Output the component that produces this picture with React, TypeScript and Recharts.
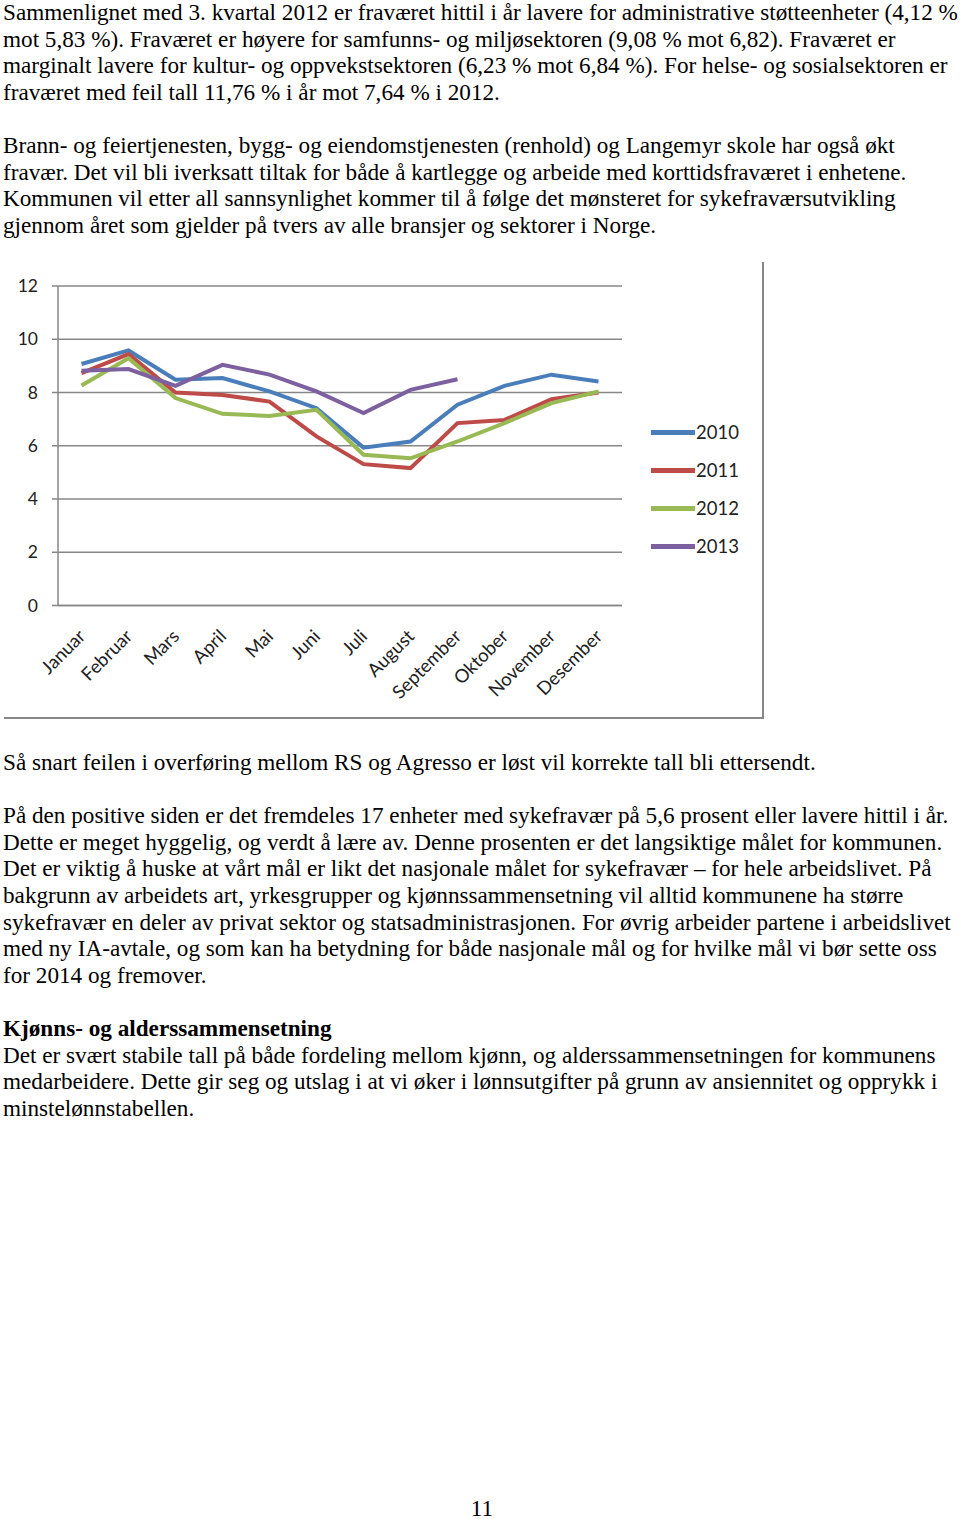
import React from 'react'
import { LineChart, Line, XAxis, YAxis, CartesianGrid } from 'recharts'

const months = [
  'Januar',
  'Februar',
  'Mars',
  'April',
  'Mai',
  'Juni',
  'Juli',
  'August',
  'September',
  'Oktober',
  'November',
  'Desember',
]

const y2010 = [9.07, 9.58, 8.48, 8.54, 8.04, 7.41, 5.93, 6.16, 7.54, 8.25, 8.67, 8.41]
const y2011 = [8.73, 9.44, 8.0, 7.91, 7.66, 6.35, 5.31, 5.16, 6.85, 6.97, 7.75, 8.0]
const y2012 = [8.26, 9.29, 7.79, 7.2, 7.12, 7.35, 5.66, 5.53, 6.16, 6.85, 7.6, 8.04]
const y2013 = [8.82, 8.88, 8.25, 9.04, 8.67, 8.04, 7.23, 8.1, 8.5, null, null, null]

const yTicks = [0, 2, 4, 6, 8, 10, 12]

const series = [
  { key: 'y2010', name: '2010', color: '#4a7ebb' },
  { key: 'y2011', name: '2011', color: '#be4b48' },
  { key: 'y2012', name: '2012', color: '#98b954' },
  { key: 'y2013', name: '2013', color: '#7d60a0' },
]

const textBefore = [
  'Sammenlignet med 3. kvartal 2012 er fraværet hittil i år lavere for administrative støtteenheter (4,12 %',
  'mot 5,83 %). Fraværet er høyere for samfunns- og miljøsektoren (9,08 % mot 6,82). Fraværet er',
  'marginalt lavere for kultur- og oppvekstsektoren (6,23 % mot 6,84 %). For helse- og sosialsektoren er',
  'fraværet med feil tall 11,76 % i år mot 7,64 % i 2012.',
  '',
  'Brann- og feiertjenesten, bygg- og eiendomstjenesten (renhold) og Langemyr skole har også økt',
  'fravær. Det vil bli iverksatt tiltak for både å kartlegge og arbeide med korttidsfraværet i enhetene.',
  'Kommunen vil etter all sannsynlighet kommer til å følge det mønsteret for sykefraværsutvikling',
  'gjennom året som gjelder på tvers av alle bransjer og sektorer i Norge.',
]

const textAfter = [
  'Så snart feilen i overføring mellom RS og Agresso er løst vil korrekte tall bli ettersendt.',
  '',
  'På den positive siden er det fremdeles 17 enheter med sykefravær på 5,6 prosent eller lavere hittil i år.',
  'Dette er meget hyggelig, og verdt å lære av. Denne prosenten er det langsiktige målet for kommunen.',
  'Det er viktig å huske at vårt mål er likt det nasjonale målet for sykefravær – for hele arbeidslivet. På',
  'bakgrunn av arbeidets art, yrkesgrupper og kjønnssammensetning vil alltid kommunene ha større',
  'sykefravær en deler av privat sektor og statsadministrasjonen. For øvrig arbeider partene i arbeidslivet',
  'med ny IA-avtale, og som kan ha betydning for både nasjonale mål og for hvilke mål vi bør sette oss',
  'for 2014 og fremover.',
  '',
  '**Kjønns- og alderssammensetning',
  'Det er svært stabile tall på både fordeling mellom kjønn, og alderssammensetningen for kommunens',
  'medarbeidere. Dette gir seg og utslag i at vi øker i lønnsutgifter på grunn av ansiennitet og opprykk i',
  'minstelønnstabellen.',
]

const data = months.map((m, i) => ({
  month: m,
  pos: i + 0.5,
  y2010: y2010[i],
  y2011: y2011[i],
  y2012: y2012[i],
  y2013: y2013[i],
}))

const boundaryTicks = months.map((_, i) => i).concat([months.length])
const labelTicks = months.map((_, i) => i + 0.5)

const gray = '#878787'
const chartFont = 'Lato, "Noto Sans", sans-serif'
const serif = '"Liberation Serif", "Times New Roman", serif'

function TextBlock({ lines, top }: { lines: string[]; top: number }) {
  return (
    <div
      style={{
        position: 'absolute',
        left: 3,
        top,
        fontFamily: serif,
        fontSize: 23.2,
        lineHeight: '26.6px',
        color: '#000',
      }}
    >
      {lines.map((l, i) => {
        const bold = l.startsWith('**')
        return (
          <div key={i} style={{ whiteSpace: 'nowrap', height: 26.6, fontWeight: bold ? 'bold' : 'normal' }}>
            {bold ? l.slice(2) : l || '\u00a0'}
          </div>
        )
      })}
    </div>
  )
}

// eslint-disable-next-line @typescript-eslint/no-explicit-any
function MonthTick({ x, y, payload }: any) {
  const label = months[Math.round(payload.value - 0.5)]
  const ax = x + 5
  const ay = y + 23
  return (
    <text
      x={ax}
      y={ay}
      transform={`rotate(-45, ${ax}, ${ay})`}
      textAnchor="end"
      fontFamily={chartFont}
      fontSize={18.5}
      fill="#222"
    >
      {label}
    </text>
  )
}

function ChartLegend() {
  return (
    <div style={{ position: 'absolute', left: 651, top: 413, fontFamily: chartFont, fontSize: 18.5, color: '#222' }}>
      {series.map((s) => (
        <div key={s.key} style={{ display: 'flex', alignItems: 'center', height: 38 }}>
          <span style={{ display: 'inline-block', width: 44, height: 5, background: s.color, marginRight: 1 }} />
          <span>{s.name}</span>
        </div>
      ))}
    </div>
  )
}

export default function App() {
  return (
    <div style={{ position: 'absolute', left: 0, top: 0, width: 960, height: 1519, background: '#fff' }}>
      <TextBlock lines={textBefore} top={-1} />

      <div
        style={{
          position: 'absolute',
          left: 4,
          top: 262,
          width: 758,
          height: 455,
          borderRight: `2px solid ${gray}`,
          borderBottom: `2px solid ${gray}`,
        }}
      />
      <div style={{ position: 'absolute', left: 0, top: 262 }}>
        <LineChart
          width={765}
          height={457}
          data={data}
          margin={{ top: 24, right: 143, left: 0, bottom: 12.5 }}
        >
          <CartesianGrid horizontal vertical={false} stroke={gray} strokeWidth={1.5} />
          <XAxis
            xAxisId="b"
            type="number"
            dataKey="pos"
            domain={[0, months.length]}
            ticks={boundaryTicks}
            tick={false}
            tickSize={6}
            height={1}
            axisLine={{ stroke: gray, strokeWidth: 1.5 }}
            tickLine={{ stroke: gray, strokeWidth: 1.5 }}
          />
          <XAxis
            xAxisId="l"
            type="number"
            dataKey="pos"
            domain={[0, months.length]}
            ticks={labelTicks}
            interval={0}
            tick={<MonthTick />}
            axisLine={false}
            tickLine={false}
            height={100}
          />
          <YAxis
            domain={[0, 12]}
            ticks={yTicks}
            width={58}
            tickSize={6}
            tickMargin={14}
            axisLine={{ stroke: gray, strokeWidth: 1.5 }}
            tickLine={{ stroke: gray, strokeWidth: 1.5 }}
            tick={{ fontFamily: chartFont, fontSize: 17.5, fill: '#222' }}
          />
          {series.map((s) => (
            <Line
              key={s.key}
              xAxisId="b"
              type="linear"
              dataKey={s.key}
              name={s.name}
              stroke={s.color}
              strokeWidth={4}
              dot={false}
              connectNulls={false}
              isAnimationActive={false}
            />
          ))}
        </LineChart>
      </div>
      <ChartLegend />

      <TextBlock lines={textAfter} top={749} />

      <div
        style={{
          position: 'absolute',
          left: 0,
          width: 964,
          top: 1495,
          textAlign: 'center',
          fontFamily: serif,
          fontSize: 23.2,
        }}
      >
        11
      </div>
    </div>
  )
}
